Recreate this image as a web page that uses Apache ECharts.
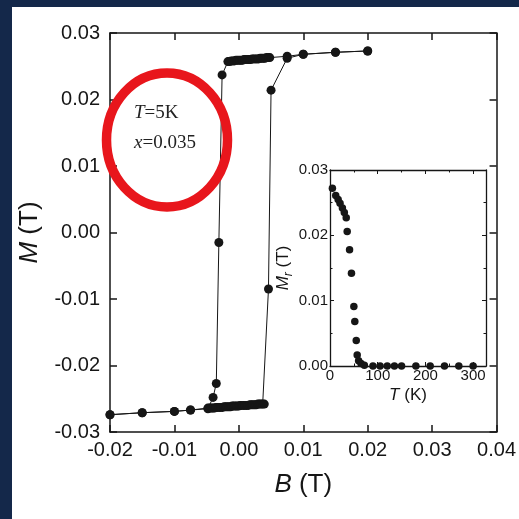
<!DOCTYPE html>
<html>
<head>
<meta charset="utf-8">
<script src="https://cdn.jsdelivr.net/npm/echarts@6/dist/echarts.min.js"></script>
<style>
  html, body { margin: 0; padding: 0; background: #14284a; }
  #chart { width: 519px; height: 519px; }
</style>
</head>
<body>
<div id="chart"></div>
<script>
// Hysteresis loop at T = 5 K: field swept down from +0.02 T ...
const downB = [0.0200, 0.0150, 0.0100, 0.0075,
  0.00480, 0.00455, 0.00430, 0.00405, 0.00380, 0.00355, 0.00330, 0.00305, 0.00280, 0.00255,
  0.00230, 0.00205, 0.00180, 0.00155, 0.00130, 0.00105, 0.00080, 0.00055, 0.00030, 0.00005,
  -0.00020, -0.00045, -0.00070, -0.00095, -0.00120, -0.00145, -0.00170,
  -0.0026, -0.0031, -0.0035, -0.0040, -0.0048, -0.0075, -0.0100, -0.0150, -0.0200];
const downM = [0.0273, 0.0271, 0.0268, 0.0265,
  0.0263, 0.0263, 0.0263, 0.0262, 0.0262, 0.0262, 0.0262, 0.0261, 0.0261, 0.0261,
  0.0261, 0.0261, 0.0260, 0.0260, 0.0260, 0.0260, 0.0260, 0.0259, 0.0259, 0.0259,
  0.0259, 0.0259, 0.0258, 0.0258, 0.0258, 0.0257, 0.0257,
  0.0237, -0.0015, -0.0227, -0.0248, -0.0265, -0.0267, -0.0269, -0.0271, -0.0274];

// ... and back up from -0.02 T
const upB = [-0.0200, -0.0150, -0.0100, -0.0075,
  -0.00480, -0.00455, -0.00430, -0.00405, -0.00380, -0.00355, -0.00330, -0.00305, -0.00280,
  -0.00255, -0.00230, -0.00205, -0.00180, -0.00155, -0.00130, -0.00105, -0.00080, -0.00055,
  -0.00030, -0.00005, 0.00020, 0.00045, 0.00070, 0.00095, 0.00120, 0.00145, 0.00170,
  0.00195, 0.00220, 0.00245, 0.00270, 0.00295, 0.00320, 0.00345, 0.00370, 0.00395,
  0.0046, 0.0050, 0.0075, 0.0100, 0.0150, 0.0200];
const upM = [-0.0274, -0.0271, -0.0269, -0.0267,
  -0.0264, -0.0264, -0.0264, -0.0264, -0.0264, -0.0263, -0.0263, -0.0263, -0.0263,
  -0.0263, -0.0262, -0.0262, -0.0262, -0.0262, -0.0262, -0.0261, -0.0261, -0.0261,
  -0.0261, -0.0261, -0.0260, -0.0260, -0.0260, -0.0260, -0.0260, -0.0260, -0.0259,
  -0.0259, -0.0259, -0.0259, -0.0259, -0.0258, -0.0258, -0.0258, -0.0258, -0.0258,
  -0.0085, 0.0214, 0.0262, 0.0268, 0.0271, 0.0273];

// Remanent magnetization versus temperature (inset)
const tempK = [5, 12, 17, 21, 26, 30, 34, 36, 41, 45, 50, 52, 55, 57, 60, 65, 72,
  90, 105, 120, 135, 150, 180, 210, 240, 270, 300];
const remM = [0.0272, 0.0261, 0.0255, 0.0249, 0.0242, 0.0235, 0.0227, 0.0206, 0.0178, 0.0142,
  0.0091, 0.0068, 0.0039, 0.0017, 0.0008, 0.0004, 0.0001,
  0, 0, 0, 0, 0, 0, 0, 0, 0, 0];

const ink = '#161616';
const sans = "'Liberation Sans', Arial, sans-serif";
const serif = "'Liberation Serif', 'Times New Roman', serif";
const fmt2 = v => (Math.abs(v) < 1e-9 ? 0 : v).toFixed(2);
const pairs = (xs, ys) => xs.map((x, i) => [x, ys[i]]);

function frameAxis(extra) {
  return Object.assign({
    type: 'value',
    splitLine: { show: false },
    axisLine: { show: true, onZero: false, lineStyle: { color: ink, width: 1.5 } },
    axisTick: { show: true, inside: true, length: 7, lineStyle: { color: ink, width: 1.5 } },
    axisLabel: { show: false }
  }, extra);
}
function insetAxis(extra) {
  return Object.assign({
    type: 'value',
    splitLine: { show: false },
    axisLine: { show: true, onZero: false, lineStyle: { color: ink, width: 1.3 } },
    axisTick: { show: true, inside: true, length: 4, lineStyle: { color: ink, width: 1 } },
    minorTick: { show: true, splitNumber: 2, length: 2.5, lineStyle: { color: ink, width: 1 } },
    axisLabel: { show: false }
  }, extra);
}

const mainLabel = { show: true, fontSize: 20, fontFamily: sans, color: ink, formatter: fmt2 };
const insetLabel = { show: true, fontSize: 15, fontFamily: sans, color: ink };

const chart = echarts.init(document.getElementById('chart'), null, { renderer: 'canvas' });
chart.setOption({
  animation: false,
  backgroundColor: '#14284a',
  grid: [
    { left: 110, top: 33, width: 388, height: 399 },
    { left: 330, top: 170, width: 156, height: 196 }
  ],
  xAxis: [
    frameAxis({
      gridIndex: 0, position: 'bottom', min: -0.02, max: 0.04, interval: 0.01,
      axisLabel: Object.assign({ margin: 8 }, mainLabel),
      name: '{i|B}{n| (T)}', nameLocation: 'middle', nameGap: 40,
      nameTextStyle: { rich: {
        i: { fontSize: 26, fontFamily: sans, fontStyle: 'italic', color: ink },
        n: { fontSize: 26, fontFamily: sans, color: ink }
      } }
    }),
    frameAxis({ gridIndex: 0, position: 'top', min: -0.02, max: 0.04, interval: 0.01 }),
    insetAxis({
      gridIndex: 1, position: 'bottom', min: 0, max: 327, interval: 100,
      axisLabel: Object.assign({ margin: 2, showMaxLabel: false }, insetLabel),
      name: '{i|T}{n| (K)}', nameLocation: 'middle', nameGap: 21,
      nameTextStyle: { rich: {
        i: { fontSize: 17, fontFamily: sans, fontStyle: 'italic', color: ink },
        n: { fontSize: 17, fontFamily: sans, color: ink }
      } }
    }),
    insetAxis({ gridIndex: 1, position: 'top', min: 0, max: 327, interval: 100 })
  ],
  yAxis: [
    frameAxis({
      gridIndex: 0, position: 'left', min: -0.03, max: 0.03, interval: 0.01,
      axisLabel: Object.assign({ margin: 10 }, mainLabel),
      name: '{i|M}{n| (T)}', nameLocation: 'middle', nameGap: 67,
      nameTextStyle: { rich: {
        i: { fontSize: 26, fontFamily: sans, fontStyle: 'italic', color: ink },
        n: { fontSize: 26, fontFamily: sans, color: ink }
      } }
    }),
    frameAxis({ gridIndex: 0, position: 'right', min: -0.03, max: 0.03, interval: 0.01 }),
    insetAxis({
      gridIndex: 1, position: 'left', min: 0, max: 0.03, interval: 0.01,
      axisLabel: Object.assign({ margin: 2, formatter: fmt2 }, insetLabel),
      name: '{i|M}{s|r}{n| (T)}', nameLocation: 'middle', nameGap: 34,
      nameTextStyle: { rich: {
        i: { fontSize: 17, lineHeight: 17, fontFamily: sans, fontStyle: 'italic', color: ink, verticalAlign: 'top' },
        s: { fontSize: 12, lineHeight: 12, fontFamily: sans, fontStyle: 'italic', color: ink, verticalAlign: 'top', padding: [8, 0, 0, 0] },
        n: { fontSize: 17, lineHeight: 17, fontFamily: sans, color: ink, verticalAlign: 'top' }
      } }
    }),
    insetAxis({ gridIndex: 1, position: 'right', min: 0, max: 0.03, interval: 0.01 })
  ],
  series: [
    {
      type: 'line', xAxisIndex: 0, yAxisIndex: 0, data: pairs(downB, downM),
      symbol: 'circle', symbolSize: 9, showAllSymbol: true, silent: true,
      lineStyle: { color: ink, width: 1 }, itemStyle: { color: ink, opacity: 1 }
    },
    {
      type: 'line', xAxisIndex: 0, yAxisIndex: 0, data: pairs(upB, upM),
      symbol: 'circle', symbolSize: 9, showAllSymbol: true, silent: true,
      lineStyle: { color: ink, width: 1 }, itemStyle: { color: ink, opacity: 1 }
    },
    {
      type: 'scatter', xAxisIndex: 2, yAxisIndex: 2, data: pairs(tempK, remM),
      symbol: 'circle', symbolSize: 7.5, silent: true, itemStyle: { color: ink, opacity: 1 }
    }
  ],
  graphic: [
    { type: 'rect', z: -100, shape: { x: 12, y: 7, width: 507, height: 512 }, style: { fill: '#ffffff' } },
    { type: 'text', z: 50, x: 134, y: 113,
      style: { text: '{i|T}{n|=5K}', verticalAlign: 'middle',
        rich: { i: { fontSize: 19, fontFamily: serif, fontStyle: 'italic', fill: '#222' },
                n: { fontSize: 19, fontFamily: serif, fill: '#222' } } } },
    { type: 'text', z: 50, x: 134, y: 143,
      style: { text: '{i|x}{n|=0.035}', verticalAlign: 'middle',
        rich: { i: { fontSize: 19, fontFamily: serif, fontStyle: 'italic', fill: '#222' },
                n: { fontSize: 19, fontFamily: serif, fill: '#222' } } } },
    { type: 'ellipse', z: 100, shape: { cx: 167, cy: 140, rx: 60.5, ry: 67 },
      style: { fill: 'none', stroke: '#e8161c', lineWidth: 9.5 } }
  ]
});
</script>
</body>
</html>
